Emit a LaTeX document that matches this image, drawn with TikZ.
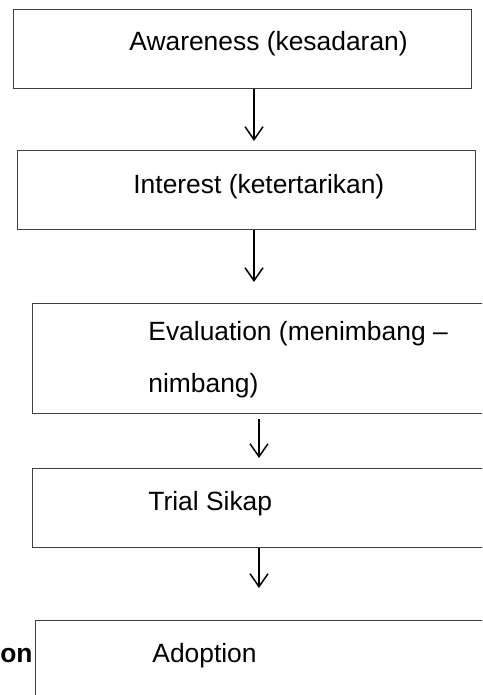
\documentclass[tikz,border=0pt]{standalone}
\usepackage{fontspec}
\setmainfont{Liberation Sans}
\usetikzlibrary{positioning,arrows.meta}

\begin{document}
\begin{tikzpicture}[x=0.5pt, y=-0.5pt, every node/.style={inner sep=0pt, font=\fontsize{13.2pt}{26pt}\selectfont}, box/.style={draw=black!75, line width=0.5pt, anchor=north west, minimum height=39.5pt}, txt/.style={anchor=base west}, arr/.style={-{Straight Barb[length=6.5pt, width=9pt]}, line width=0.75pt}]
    \clip (0,0) rectangle (482,695);
    \node[box, minimum width=229pt] (awareness) at (13,9) {};
    \node[box, minimum width=229pt] (interest) at (17,150) {};
    \node[box, minimum width=230pt, minimum height=55pt] (evaluation) at (32,303) {};
    \node[box, minimum width=230pt] (trial) at (32,468) {};
    \node[box, minimum width=230pt, minimum height=40pt] (adoption) at (35,620) {};

    \node[txt] (awareness_text) at (129,51) {Awareness (kesadaran)};
    \node[txt] (interest_text) at (133,193) {Interest (ketertarikan)};
    \node[txt, align=left] (evaluation_text) at (148,392) {Evaluation (menimbang –\\nimbang)};
    \node[txt] (trial_text) at (148,510) {Trial Sikap};
    \node[txt] (adoption_text) at (152,662) {Adoption};
    \node[anchor=base east] (cut_text) at (33,662) {\textbf{on}};

    \coordinate (left_axis) at (254,0);
    \coordinate (right_axis) at (259,0);
    \draw[arr, shorten >=4.5pt] (awareness.south -| left_axis) -- (interest.north -| left_axis);
    \draw[arr, shorten >=10.5pt] (interest.south -| left_axis) -- (evaluation.north -| left_axis);
    \draw[arr, shorten <=2.5pt, shorten >=5pt] (evaluation.south -| right_axis) -- (trial.north -| right_axis);
    \draw[arr, shorten >=16pt] (trial.south -| right_axis) -- (adoption.north -| right_axis);
\end{tikzpicture}
\end{document}
